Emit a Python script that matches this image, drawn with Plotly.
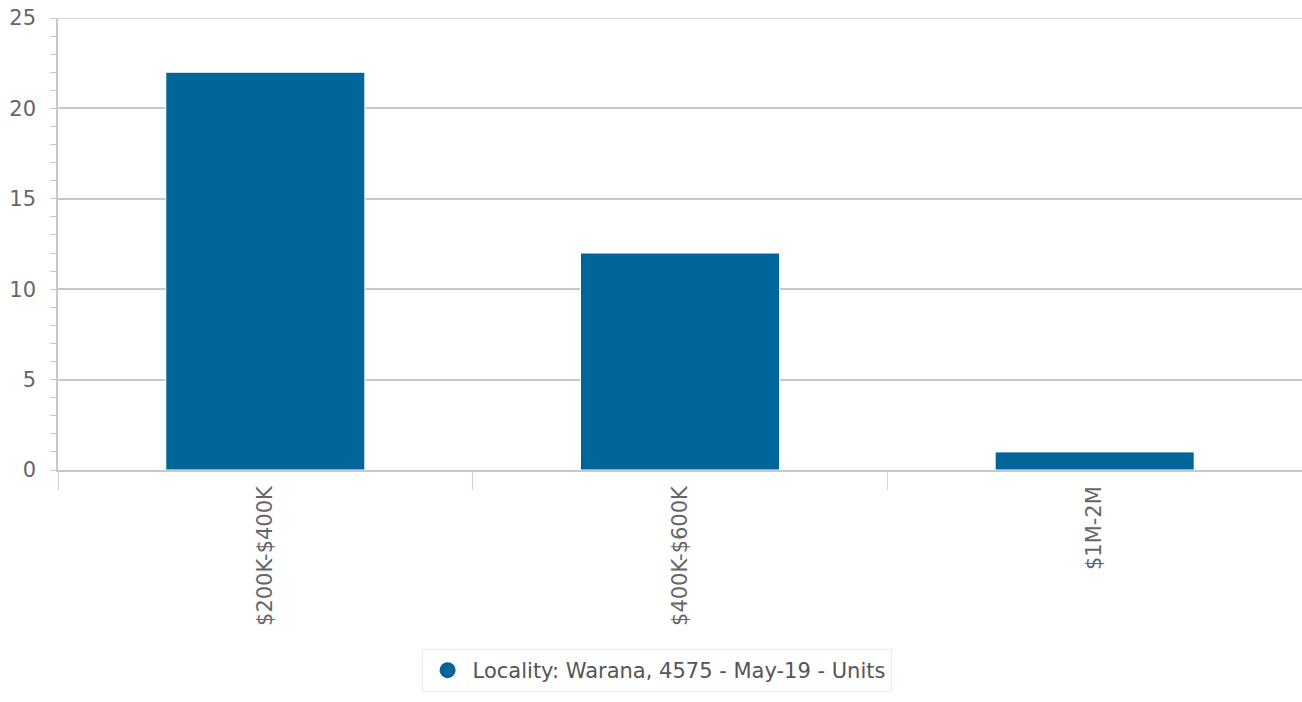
import plotly.graph_objects as go

categories = ["$200K-$400K", "$400K-$600K", "$1M-2M"]
values = [22, 12, 1]
series_name = "Locality: Warana, 4575 - May-19 - Units"
bar_color = "#006699"

fig = go.Figure()
fig.add_trace(go.Bar(
    x=categories, y=values, name=series_name, marker=dict(color=bar_color, line=dict(color="white", width=1)),
    width=0.48, showlegend=False,
))
fig.add_trace(go.Scatter(
    x=[None], y=[None], mode="markers", name=series_name,
    marker=dict(color=bar_color, size=20, symbol="circle"), showlegend=True,
))

fig.update_layout(
    width=1302, height=702,
    margin=dict(l=58, r=0, t=18, b=232),
    plot_bgcolor="white", paper_bgcolor="white",
    font=dict(family="DejaVu Sans", color="#666666", size=21),
    legend=dict(
        orientation="h", x=0.4812, xanchor="center", y=-0.396, yanchor="top",
        bordercolor="#ebebeb", borderwidth=1,
        font=dict(size=21, color="#555555"), itemsizing="trace",
        itemwidth=40,
    ),
)
fig.update_xaxes(
    type="category", tickson="boundaries", ticks="outside", ticklen=18,
    tickcolor="#ccd6eb", tickangle=-90, showline=True, linecolor="#c8c8c8",
    linewidth=1.5, tickfont=dict(size=21, color="#666666"), showgrid=False,
    ticklabelstandoff=6,
)
fig.update_yaxes(
    range=[0, 25], dtick=5, ticks="outside", ticklen=6, tickcolor="#c8c8c8",
    showgrid=True, gridcolor="#c8c8c8", gridwidth=1.5, showline=True, linecolor="#c8c8c8",
    linewidth=1.5, zeroline=False, tickfont=dict(size=21, color="#666666"), ticklabelstandoff=10,
    minor=dict(dtick=1, ticks="outside", ticklen=6, tickcolor="#c8c8c8", showgrid=False),
)
fig.add_hline(y=25, line=dict(color="#c8c8c8", width=1.5), layer="below")

fig.write_html(
    "out.html",
    config={"displayModeBar": False},
    post_script="document.body.style.margin='0';document.body.style.overflow='hidden';",
)
